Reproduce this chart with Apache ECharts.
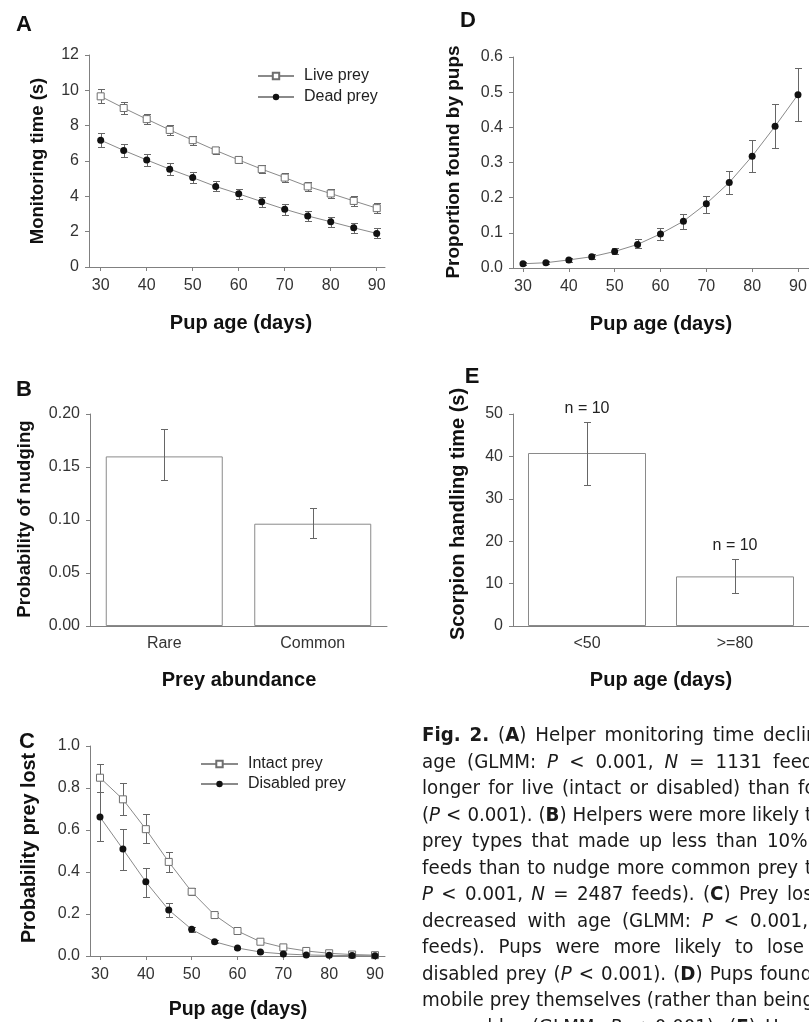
<!DOCTYPE html>
<html><head><meta charset="utf-8">
<script src="https://cdn.jsdelivr.net/npm/echarts@6/dist/echarts.min.js"></script>
<style>html,body{margin:0;padding:0;background:#fff}#c{width:809px;height:1022px}</style>
</head><body><div id="c"></div>
<script>
// ---------- DATA ----------
const ages = [30,35,40,45,50,55,60,65,70,75,80,85,90];
const ageTicks = [30,40,50,60,70,80,90];

// Panel A: monitoring time (s)
const liveMean = [9.66,9.0,8.37,7.76,7.18,6.6,6.06,5.54,5.06,4.56,4.16,3.74,3.33];
const liveSE   = [0.40,0.35,0.30,0.26,0.25,0.21,0.19,0.24,0.27,0.26,0.27,0.26,0.28];
const deadMean = [7.18,6.6,6.06,5.54,5.06,4.56,4.14,3.7,3.27,2.89,2.56,2.22,1.9];
const deadSE   = [0.40,0.36,0.35,0.33,0.33,0.28,0.30,0.28,0.32,0.26,0.28,0.28,0.28];

// Panel D: proportion found by pups
const foundMean = [0.012,0.015,0.023,0.032,0.047,0.067,0.097,0.133,0.183,0.243,0.318,0.403,0.493];
const foundLo   = [0.008,0.011,0.017,0.025,0.040,0.057,0.080,0.112,0.156,0.210,0.272,0.342,0.417];
const foundHi   = [0.016,0.020,0.029,0.040,0.057,0.083,0.113,0.153,0.206,0.276,0.365,0.465,0.570];

// Panel C: probability prey lost
const intactMean = [0.849,0.746,0.604,0.448,0.306,0.195,0.119,0.068,0.041,0.024,0.013,0.007,0.004];
const intactLo   = [0.780,0.670,0.536,0.401,0.290,0.185,0.112,0.062,0.036,0.020,0.010,0.005,0.002];
const intactHi   = [0.916,0.826,0.678,0.496,0.322,0.205,0.127,0.075,0.047,0.028,0.016,0.009,0.006];
const disabledMean = [0.662,0.509,0.353,0.219,0.127,0.068,0.038,0.019,0.010,0.005,0.003,0.002,0.001];
const disabledLo   = [0.550,0.409,0.280,0.184,0.115,0.062,0.033,0.016,0.008,0.003,0.002,0.001,0.000];
const disabledHi   = [0.780,0.607,0.420,0.254,0.140,0.075,0.043,0.022,0.012,0.007,0.004,0.003,0.002];

// Panel B: probability of nudging
const abundanceCats = ['Rare','Common'];
const nudgeMean = [0.160,0.0965];
const nudgeLo   = [0.138,0.083];
const nudgeHi   = [0.186,0.111];

// Panel E: scorpion handling time
const ageGroupCats = ['<50','>=80'];
const handlingMean = [40.8,11.7];
const handlingLo   = [33.2,7.8];
const handlingHi   = [48.2,15.9];
const handlingN    = [10,10];

// Caption (** bold, * italic)
const captionLines = [
  '**Fig.** **2.** (**A**) Helper monitoring time declines',
  'age (GLMM: *P* < 0.001, *N* = 1131 feeds)',
  'longer for live (intact or disabled) than for',
  '(*P* < 0.001). (**B**) Helpers were more likely to',
  'prey types that made up less than 10%',
  'feeds than to nudge more common prey types',
  '*P* < 0.001, *N* = 2487 feeds). (**C**) Prey loss',
  'decreased with age (GLMM: *P* < 0.001,',
  'feeds). Pups were more likely to lose',
  'disabled prey (*P* < 0.001). (**D**) Pups found',
  'mobile prey themselves (rather than being',
  'grew older (GLMM: *P* < 0.001). (**E**) Handling'
];

// ---------- LAYOUT / STYLE ----------
const captionLastWordX = [763,773,798,805,767,805,787,750,767,760,763,765];
const FONT = '"Liberation Sans", Arial, Helvetica, sans-serif';
const AX = '#808080';
const LINE = '#8a8a8a';
const ERR = '#666';

function xVal(gi, min, max){
  return {type:'value', gridIndex:gi, min, max,
    axisLine:{show:true, onZero:false, lineStyle:{color:AX, width:1}},
    axisTick:{show:true, length:4, customValues:ageTicks, lineStyle:{color:AX}},
    axisLabel:{customValues:ageTicks, fontSize:16, color:'#333', margin:11, fontFamily:FONT},
    splitLine:{show:false}};
}
function yVal(gi, max, interval, dec){
  return {type:'value', gridIndex:gi, min:0, max, interval,
    axisLine:{show:true, lineStyle:{color:AX, width:1}},
    axisTick:{show:true, length:4, lineStyle:{color:AX}},
    axisLabel:{fontSize:16, color:'#333', margin:10, fontFamily:FONT, formatter:v=>v.toFixed(dec)},
    splitLine:{show:false}};
}
function xCat(gi, cats){
  return {type:'category', gridIndex:gi, data:cats,
    axisLine:{show:true, lineStyle:{color:AX, width:1}},
    axisTick:{show:false},
    axisLabel:{fontSize:16, color:'#333', margin:10, fontFamily:FONT},
    splitLine:{show:false}};
}
function crisp(v){ return Math.round(v) + 0.5; }
function makeErr(cap, labelFn){
  return function(params, api){
    const x = api.value(0), lo = api.value(2), hi = api.value(3);
    const a = api.coord([x, lo]), b = api.coord([x, hi]);
    const cx = crisp(a[0]), ya = crisp(a[1]), yb = crisp(b[1]);
    const st = {stroke:ERR, lineWidth:1};
    const ch = [
      {type:'line', shape:{x1:cx, y1:ya, x2:cx, y2:yb}, style:st},
      {type:'line', shape:{x1:cx-cap, y1:ya, x2:cx+cap, y2:ya}, style:st},
      {type:'line', shape:{x1:cx-cap, y1:yb, x2:cx+cap, y2:yb}, style:st}
    ];
    if (labelFn) ch.push({type:'text', x:b[0], y:b[1]-13,
      style:{text:labelFn(params.dataIndex), font:'16px '+FONT, fill:'#222',
             align:'center', verticalAlign:'middle'}});
    return {type:'group', children:ch};
  };
}
function errSeries(name, xi, cats, mean, lo, hi, cap, labelFn){
  return {type:'custom', name, xAxisIndex:xi, yAxisIndex:xi, z:4, silent:true,
    renderItem:makeErr(cap, labelFn),
    encode:{x:0, y:[1,2,3]},
    data:cats.map((k,i)=>[k, mean[i], lo[i], hi[i]])};
}
function lineSeries(name, xi, mean, symbol, itemStyle){
  return {type:'line', name, xAxisIndex:xi, yAxisIndex:xi, z:5,
    data:ages.map((a,i)=>[a, mean[i]]),
    symbol, symbolSize:7, showSymbol:true,
    lineStyle:{color:LINE, width:1}, itemStyle, emphasis:{disabled:true}};
}
const hollow = {color:'#fff', borderColor:'#6e6e6e', borderWidth:1};
const filled = {color:'#111', borderColor:'#111', borderWidth:0};

// ---------- TEXT ----------
function gtext(x, y, text, font, rot){
  return {type:'text', x, y, rotation:rot||0, silent:true,
    style:{text, font, fill:'#111', align:'center', verticalAlign:'middle'}};
}
const graphics = [
  gtext(24,25,'A','bold 22px '+FONT), gtext(468,21,'D','bold 22px '+FONT),
  gtext(24,390,'B','bold 22px '+FONT), gtext(472,377,'E','bold 22px '+FONT),
  gtext(27,742,'C','bold 22px '+FONT),
  gtext(38,161,'Monitoring time (s)','bold 18.5px '+FONT, Math.PI/2),
  gtext(454,162,'Proportion found by pups','bold 19px '+FONT, Math.PI/2),
  gtext(25,519,'Probability of nudging','bold 18.6px '+FONT, Math.PI/2),
  gtext(458,514,'Scorpion handling time (s)','bold 20px '+FONT, Math.PI/2),
  gtext(30,848,'Probability prey lost','bold 19.8px '+FONT, Math.PI/2),
  gtext(241,323,'Pup age (days)','bold 20px '+FONT),
  gtext(661,324,'Pup age (days)','bold 20px '+FONT),
  gtext(239,680,'Prey abundance','bold 20px '+FONT),
  gtext(661,680,'Pup age (days)','bold 20px '+FONT),
  gtext(238,1010,'Pup age (days)','bold 19.5px '+FONT)
];

// caption with justified word placement
(function(){
  const CF = '"Liberation Sans Narrow","DejaVu Sans Condensed","Open Sans",sans-serif';
  const SIZE = 20;
  const ctx = document.createElement('canvas').getContext('2d');
  function fontOf(kind){ return (kind==='b'?'bold ':kind==='i'?'italic ':'') + SIZE + 'px ' + CF; }
  function parseWord(w){
    const segs = []; const re = /\*\*(.+?)\*\*|\*(.+?)\*|([^*]+)/g; let m;
    while ((m = re.exec(w))){ if (m[1]) segs.push({t:m[1],k:'b'}); else if (m[2]) segs.push({t:m[2],k:'i'}); else segs.push({t:m[3],k:'n'}); }
    segs.forEach(s=>{ ctx.font = fontOf(s.k); s.w = ctx.measureText(s.t).width; });
    return segs;
  }
  ctx.font = fontOf('n');
  const spaceW = ctx.measureText(' ').width;
  const parsed = captionLines.map(l => l.split(' ').map(parseWord));
  const wordW = segs => segs.reduce((a,s)=>a+s.w,0);
  const ref = parsed[10];
  let natural = 0; for (let i=0;i<ref.length-1;i++) natural += wordW(ref[i]) + spaceW;
  const sx = Math.min(1.1, (captionLastWordX[10]-422)/natural);
  const X0 = 422, Y0 = 736, LH = 26.5;
  parsed.forEach((words, li) => {
    const y = Y0 + li*LH;
    let sum = 0; for (let i=0;i<words.length-1;i++) sum += wordW(words[i])*sx;
    let gap = (captionLastWordX[li] - X0 - sum) / (words.length-1);
    if (gap < spaceW*sx*0.6) gap = spaceW*sx;
    let x = X0;
    words.forEach(segs => {
      segs.forEach(s => {
        graphics.push({type:'text', x, y, scaleX:sx, silent:true,
          style:{text:s.t, font:fontOf(s.k), fill:'#1a1a1a', align:'left', verticalAlign:'middle'}});
        x += s.w*sx;
      });
      x += gap;
    });
  });
})();

// ---------- CHART ----------
const chart = echarts.init(document.getElementById('c'), null, {renderer:'canvas', width:809, height:1022});
const G = (left, top, width, height) => ({left, top, width, height, containLabel:false, outerBoundsMode:'none', show:false});
chart.setOption({
  animation:false,
  backgroundColor:'#fff',
  textStyle:{fontFamily:FONT},
  grid:[G(89,55,296,212), G(90,414,297,212), G(90,746,295,210), G(513,57,296,211), G(513,414,296,212)],
  xAxis:[xVal(0,27.46,91.8), xCat(1,abundanceCats), xVal(2,27.82,92.18), xVal(3,27.82,92.4), xCat(4,ageGroupCats)],
  yAxis:[yVal(0,12,2,0), yVal(1,0.2,0.05,2), yVal(2,1.0,0.2,1), yVal(3,0.6,0.1,1), yVal(4,50,10,0)],
  legend:[
    {data:['Live prey','Dead prey'], orient:'vertical', left:257, top:68, padding:0, itemWidth:36, itemHeight:8, itemGap:5,
     selectedMode:false, textStyle:{fontSize:16, color:'#222', fontFamily:FONT, padding:[0,0,0,5]}},
    {data:['Intact prey','Disabled prey'], orient:'vertical', left:200, top:756, padding:0, itemWidth:37, itemHeight:8, itemGap:4,
     selectedMode:false, textStyle:{fontSize:16, color:'#222', fontFamily:FONT, padding:[0,0,0,5]}}
  ],
  graphic:graphics,
  series:[
    // A
    errSeries('liveErr',0,ages,liveMean,liveMean.map((m,i)=>m-liveSE[i]),liveMean.map((m,i)=>m+liveSE[i]),3.5),
    errSeries('deadErr',0,ages,deadMean,deadMean.map((m,i)=>m-deadSE[i]),deadMean.map((m,i)=>m+deadSE[i]),3.5),
    lineSeries('Live prey',0,liveMean,'rect',hollow),
    lineSeries('Dead prey',0,deadMean,'circle',filled),
    // B
    {type:'bar', name:'nudge', xAxisIndex:1, yAxisIndex:1, data:nudgeMean, barWidth:117, z:2,
     itemStyle:{color:'#fff', borderColor:'#8a8a8a', borderWidth:1}, emphasis:{disabled:true}},
    errSeries('nudgeErr',1,abundanceCats,nudgeMean,nudgeLo,nudgeHi,3.5),
    // C
    errSeries('intactErr',2,ages,intactMean,intactLo,intactHi,3.5),
    errSeries('disabledErr',2,ages,disabledMean,disabledLo,disabledHi,3.5),
    lineSeries('Intact prey',2,intactMean,'rect',hollow),
    lineSeries('Disabled prey',2,disabledMean,'circle',filled),
    // D
    errSeries('foundErr',3,ages,foundMean,foundLo,foundHi,3.5),
    lineSeries('Proportion found',3,foundMean,'circle',filled),
    // E
    {type:'bar', name:'handling', xAxisIndex:4, yAxisIndex:4, data:handlingMean, barWidth:118, z:2,
     itemStyle:{color:'#fff', borderColor:'#8a8a8a', borderWidth:1}, emphasis:{disabled:true}},
    errSeries('handlingErr',4,ageGroupCats,handlingMean,handlingLo,handlingHi,3.5, i=>'n = '+handlingN[i])
  ]
});
</script>
</body></html>
